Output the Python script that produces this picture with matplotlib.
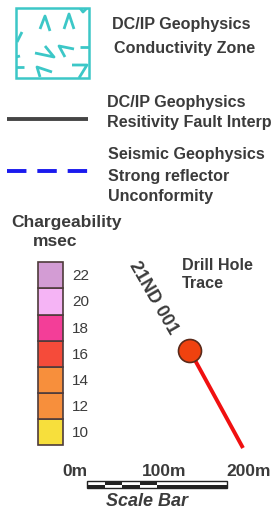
import matplotlib.pyplot as plt
from matplotlib.patches import Rectangle, Circle

plt.rcParams['font.family'] = ['Liberation Sans', 'DejaVu Sans']

# chargeability classes (msec), bottom to top
charge_vals = [10, 12, 14, 16, 18, 20, 22]
charge_cols = ['#f7df3c', '#f78f3c', '#f78f3c', '#f54b3a', '#f33e98', '#f5b4f5', '#d39cd4']

legend_text = {
    'cond': ['DC/IP Geophysics', 'Conductivity Zone'],
    'fault': ['DC/IP Geophysics', 'Resitivity Fault Interp'],
    'seis': ['Seismic Geophysics', 'Strong reflector', 'Unconformity'],
}
scale_labels = ['0m', '100m', '200m']
scale_m = [0, 100, 200]

# chevron strokes inside the conductivity box (pixel coords)
chevrons = [
    [(40, 29), (45, 16), (50, 31)],
    [(64, 29), (69, 14), (74, 29)],
    [(80, 8), (83, 12), (87, 8)],
    [(17, 42), (22, 32)],
    [(45, 46), (54, 57), (35, 53)],
    [(74, 49), (59, 46), (65, 57)],
    [(80, 47), (89, 47)],
    [(16, 57), (20, 56)],
    [(16, 67), (24, 67)],
    [(52, 72), (37, 67), (40, 77)],
    [(72, 65), (87, 65), (79, 78)],
]

txt = '#3b3b3b'
fig = plt.figure(figsize=(2.73, 5.14), dpi=100)
ax = fig.add_axes([0, 0, 1, 1])
ax.set_xlim(0, 273)
ax.set_ylim(514, 0)
ax.axis('off')

# conductivity zone box
teal = '#3cc7c7'
ax.add_patch(Rectangle((16, 8), 73, 70, fill=False, ec=teal, lw=1.8))
for ch in chevrons:
    xs, ys = zip(*ch)
    ln, = ax.plot(xs, ys, color=teal, lw=2.0, solid_capstyle='butt')
    ln.set_clip_path(Rectangle((16, 8), 73, 70, transform=ax.transData))
fs = 11.6
ax.text(112, 24, legend_text['cond'][0], fontsize=fs, fontweight='bold', color=txt, va='center')
ax.text(114, 49, legend_text['cond'][1], fontsize=fs, fontweight='bold', color=txt, va='center')

# fault line
ax.plot([7, 88], [119, 119], color='#454545', lw=2.8, solid_capstyle='butt')
ax.text(107, 103, legend_text['fault'][0], fontsize=fs, fontweight='bold', color=txt, va='center')
ax.text(107, 123, legend_text['fault'][1], fontsize=fs, fontweight='bold', color=txt, va='center')

# seismic reflector
ax.plot([7, 88], [171, 171], color='#1a1aee', lw=2.8, dashes=(5, 2.8), solid_capstyle='butt')
for i, s in enumerate(legend_text['seis']):
    ax.text(108, 155 + i * 21, s, fontsize=fs, fontweight='bold', color=txt, va='center')

# chargeability scale
ax.text(66, 223, 'Chargeability', fontsize=12.5, fontweight='bold', color=txt, ha='center', va='center')
ax.text(55, 242, 'msec', fontsize=12.5, fontweight='bold', color=txt, ha='center', va='center')
bot, h = 445, 26.1
for i, (v, c) in enumerate(zip(charge_vals, charge_cols)):
    y0 = bot - (i + 1) * h
    ax.add_patch(Rectangle((38, y0), 25, h, fc=c, ec='#4e3b3b', lw=1.2))
    ax.text(72, y0 + h / 2 + 1, str(v), fontsize=11, color=txt, va='center')

# drill hole
ax.text(153, 298, '21ND 001', fontsize=13, fontweight='bold', color=txt, rotation=-60,
        ha='center', va='center', rotation_mode='anchor')
ax.text(182, 266, 'Drill Hole', fontsize=fs, fontweight='bold', color=txt, va='center')
ax.text(182, 283, 'Trace', fontsize=fs, fontweight='bold', color=txt, va='center')
ax.plot([190, 243], [351, 448], color='#f01010', lw=2.8, solid_capstyle='butt', zorder=2)
ax.add_patch(Circle((190, 351), 11.5, fc='#f0420f', ec='#5a2a1a', lw=1.2, zorder=3))

# scale bar
x0, x1 = 87, 227
px_per_m = (x1 - x0) / 200.0
segs = [0, 25, 50, 75, 100, 200]
for i in range(len(segs) - 1):
    a = x0 + segs[i] * px_per_m
    w = (segs[i + 1] - segs[i]) * px_per_m
    top_black = i % 2 == 1
    ax.add_patch(Rectangle((a, 481), w, 3.5, fc='#222222' if top_black else 'white', ec='none'))
    ax.add_patch(Rectangle((a, 484.5), w, 3.5, fc='white' if top_black else '#222222', ec='none'))
ax.add_patch(Rectangle((x0, 481), x1 - x0, 7, fill=False, ec='#222222', lw=1.0))
for lab, m, dx in zip(scale_labels, scale_m, [-12, 7, 22]):
    ax.text(x0 + m * px_per_m + dx, 471, lab, fontsize=12.5, fontweight='bold', color=txt,
            ha='center', va='center')
ax.text(147, 502, 'Scale Bar', fontsize=13, fontweight='bold', style='italic', color=txt,
        ha='center', va='center')

fig.savefig('out.png', dpi=100)
